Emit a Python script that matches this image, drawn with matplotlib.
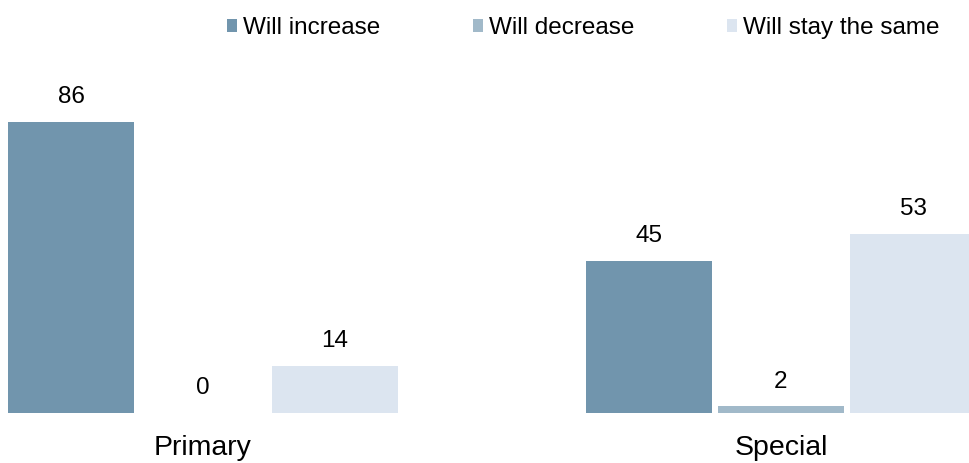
import numpy as np
import matplotlib.pyplot as plt

plt.rcParams['font.family'] = ['Liberation Sans', 'DejaVu Sans']

categories = ['Primary', 'Special']
series = ['Will increase', 'Will decrease', 'Will stay the same']
values = [
    [86, 45],
    [0, 2],
    [14, 53],
]
colors = ['#7195ad', '#a1b9c9', '#dce5f0']

fig = plt.figure(figsize=(9.7, 4.63), dpi=100)
ax = fig.add_axes([0, 50 / 463, 1, 353 / 463])

x = np.arange(len(categories))
w = 0.218
step = 0.2284
for i, (name, vals) in enumerate(zip(series, values)):
    pos = x + (i - 1) * step
    bars = ax.bar(pos, vals, width=w, color=colors[i], label=name)
    for b, v in zip(bars, vals):
        ax.text(b.get_x() + b.get_width() / 2, v + 4, str(v),
                ha='center', va='bottom', fontsize=17.5)

ax.set_xlim(-0.3512, -0.3512 + 970 / 578)
ax.set_ylim(0, 104.3)
ax.set_xticks(x)
ax.set_xticklabels(categories, fontsize=20.5)
ax.tick_params(axis='x', length=0, pad=16)
ax.set_yticks([])
for s in ax.spines.values():
    s.set_visible(False)

fig.legend(loc='upper center', bbox_to_anchor=(0.601, 1.01), ncol=3,
           frameon=False, fontsize=17.5, handlelength=0.42, handleheight=0.42,
           handletextpad=0.25, columnspacing=3.8)

fig.savefig('out.png', dpi=100)
